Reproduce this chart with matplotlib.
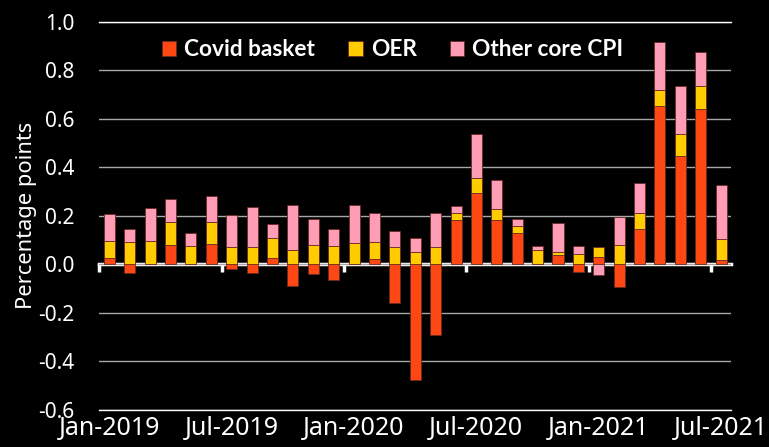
import numpy as np
import matplotlib.pyplot as plt

months = ['Jan-2019', 'Feb-2019', 'Mar-2019', 'Apr-2019', 'May-2019', 'Jun-2019',
          'Jul-2019', 'Aug-2019', 'Sep-2019', 'Oct-2019', 'Nov-2019', 'Dec-2019',
          'Jan-2020', 'Feb-2020', 'Mar-2020', 'Apr-2020', 'May-2020', 'Jun-2020',
          'Jul-2020', 'Aug-2020', 'Sep-2020', 'Oct-2020', 'Nov-2020', 'Dec-2020',
          'Jan-2021', 'Feb-2021', 'Mar-2021', 'Apr-2021', 'May-2021', 'Jun-2021',
          'Jul-2021']

covid = [0.027, -0.034, 0.0, 0.078, 0.0, 0.082, -0.021, -0.036, 0.025, -0.088,
         -0.040, -0.064, 0.0, 0.020, -0.160, -0.478, -0.290, 0.184, 0.293, 0.184,
         0.129, 0.0, 0.037, -0.033, 0.030, -0.095, 0.144, 0.653, 0.446, 0.639,
         0.019]
oer = [0.069, 0.092, 0.096, 0.096, 0.075, 0.092, 0.071, 0.073, 0.085, 0.060,
       0.078, 0.075, 0.088, 0.072, 0.071, 0.051, 0.071, 0.028, 0.061, 0.042,
       0.027, 0.060, 0.014, 0.044, 0.041, 0.078, 0.068, 0.063, 0.092, 0.096,
       0.085]
other = [0.111, 0.053, 0.138, 0.096, 0.052, 0.106, 0.134, 0.163, 0.058, 0.184,
         0.110, 0.069, 0.156, 0.119, 0.065, 0.056, 0.141, 0.027, 0.184, 0.121,
         0.029, 0.017, 0.120, 0.030, -0.044, 0.115, 0.124, 0.199, 0.197, 0.141,
         0.223]

series = [('Covid basket', covid, '#ff4713'),
          ('OER', oer, '#ffcc00'),
          ('Other core CPI', other, '#ff9db6')]

plt.rcParams['font.family'] = ['Noto Sans', 'DejaVu Sans']

fig = plt.figure(figsize=(7.69, 4.47), dpi=100, facecolor='black')
ax = fig.add_axes([0.129, 0.0828, 0.822, 0.869], facecolor='black')

x = np.arange(len(months)) + 0.5
pos = np.zeros(len(months))
neg = np.zeros(len(months))
for name, vals, col in series:
    v = np.array(vals)
    bottom = np.where(v >= 0, pos, neg)
    ax.bar(x, v, 0.54, bottom=bottom, color=col, edgecolor='#6a2a22',
           linewidth=0.6, label=name, zorder=3)
    pos = pos + np.clip(v, 0, None)
    neg = neg + np.clip(v, None, 0)

ax.set_xlim(0, len(months))
ax.set_ylim(-0.6, 1.0)
yt = np.arange(-0.6, 1.01, 0.2)
ax.set_yticks(yt)
ax.set_yticklabels([f'{t:.1f}' for t in yt])
ax.grid(axis='y', color='#a8a8a8', linewidth=1, zorder=0)

# labels sit under the bar, tick marks on the month boundary
tick_pos = np.arange(0, len(months), 6)
ax.set_xticks(tick_pos + 0.5)
ax.set_xticklabels([months[i] for i in tick_pos])
ax.tick_params(axis='x', length=0, pad=4, labelsize=18, colors='white')
ax.tick_params(axis='y', length=0, pad=18, labelsize=15, colors='white')

for s in ['left', 'right']:
    ax.spines[s].set_visible(False)
for s in ['top', 'bottom']:
    ax.spines[s].set_color('white')
    ax.spines[s].set_linewidth(1)

# zero line
zero = ax.secondary_xaxis(0.6 / 1.6)
zero.set_xticks(tick_pos)
zero.set_xticklabels([])
zero.tick_params(length=6, width=2.5, colors='white', direction='out')
zero.spines['bottom'].set_color('white')
zero.spines['bottom'].set_linewidth(2.5)
zero.spines['bottom'].set_zorder(5)

ax.set_ylabel('Percentage points', color='white', fontsize=15.8, labelpad=1)

leg = ax.legend(loc='center', bbox_to_anchor=(0.464, 0.927), ncol=3,
                frameon=False, handlelength=0.65, handleheight=0.65,
                handletextpad=0.35, columnspacing=1.45,
                prop={'family': 'Lato', 'weight': 'bold', 'size': 16.3})
for t in leg.get_texts():
    t.set_color('white')

fig.savefig('out.png', dpi=100, facecolor='black')
